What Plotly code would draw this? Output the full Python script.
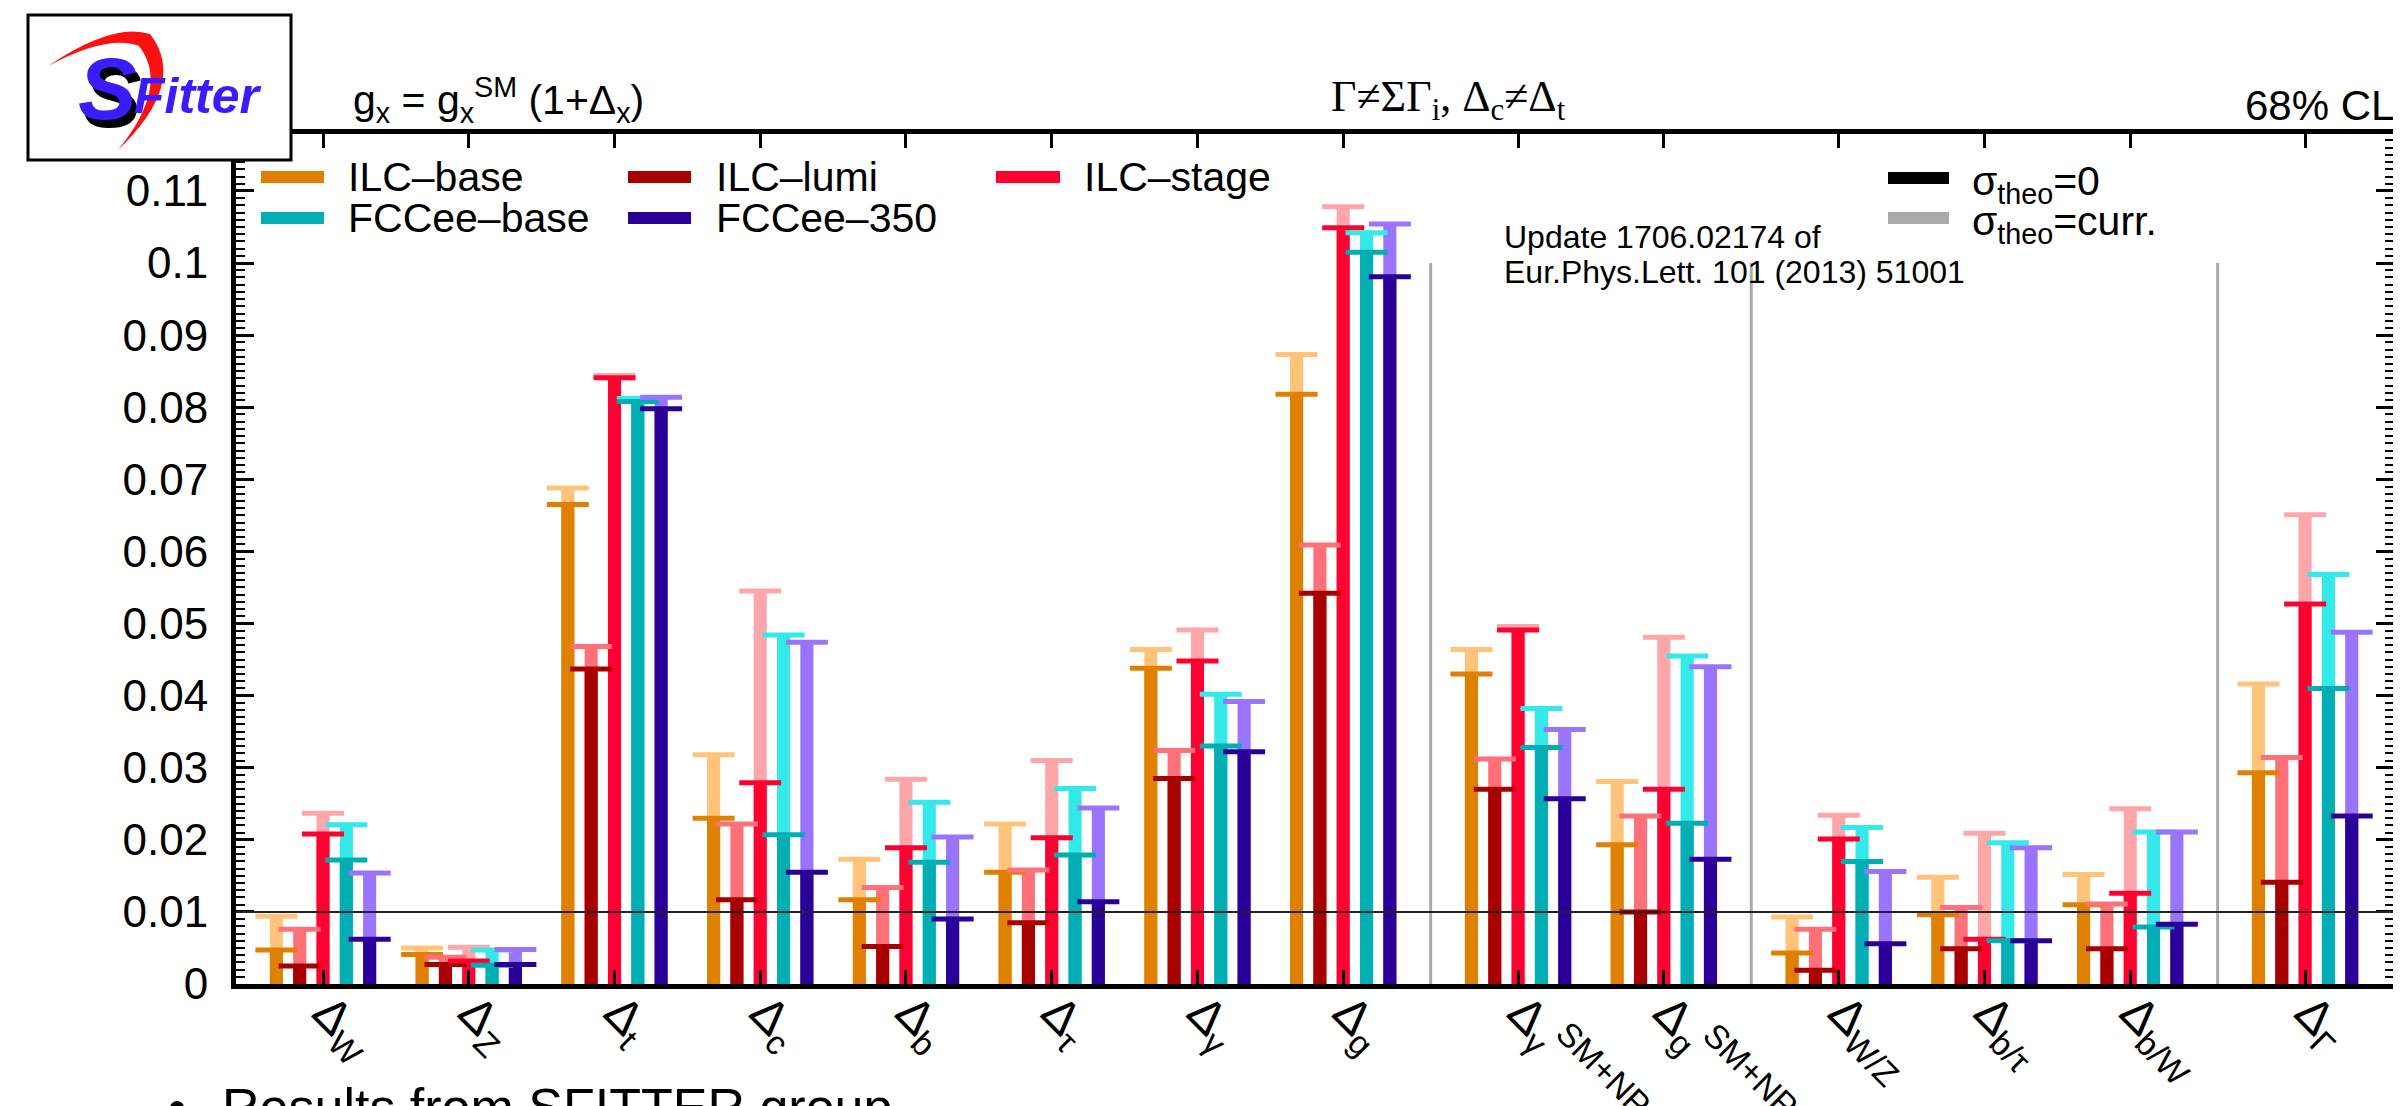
import plotly.graph_objects as go

# ---------------- data ----------------
categories = ["Δ<sub>W</sub>", "Δ<sub>Z</sub>", "Δ<sub>t</sub>", "Δ<sub>c</sub>", "Δ<sub>b</sub>",
              "Δ<sub>τ</sub>", "Δ<sub>γ</sub>", "Δ<sub>g</sub>",
              "Δ<sub>γ</sub><sup>SM+NP</sup>", "Δ<sub>g</sub><sup>SM+NP</sup>",
              "Δ<sub>W/Z</sub>", "Δ<sub>b/τ</sub>", "Δ<sub>b/W</sub>", "Δ<sub>Γ</sub>"]
group_sizes = [8, 2, 3, 1]

series_names = ["ILC–base", "ILC–lumi", "ILC–stage", "FCCee–base", "FCCee–350"]

# sigma_theo = 0
ilc_base_0   = [0.0047, 0.0041, 0.0665, 0.0230, 0.0117, 0.0155, 0.0438, 0.0818, 0.0430, 0.0193, 0.0043, 0.0096, 0.0110, 0.0293]
ilc_lumi_0   = [0.0025, 0.0027, 0.0437, 0.0117, 0.0052, 0.0085, 0.0285, 0.0542, 0.0270, 0.0100, 0.0019, 0.0049, 0.0049, 0.0141]
ilc_stage_0  = [0.0208, 0.0032, 0.0841, 0.0279, 0.0189, 0.0203, 0.0448, 0.1049, 0.0491, 0.0270, 0.0201, 0.0062, 0.0126, 0.0527]
fcc_base_0   = [0.0172, 0.0026, 0.0808, 0.0207, 0.0169, 0.0179, 0.0330, 0.1015, 0.0328, 0.0223, 0.0170, 0.0060, 0.0079, 0.0410]
fcc_350_0    = [0.0062, 0.0027, 0.0798, 0.0155, 0.0090, 0.0114, 0.0322, 0.0981, 0.0257, 0.0173, 0.0056, 0.0060, 0.0083, 0.0233]
# sigma_theo = current
ilc_base_c   = [0.0094, 0.0050, 0.0688, 0.0318, 0.0173, 0.0222, 0.0464, 0.0873, 0.0464, 0.0281, 0.0093, 0.0148, 0.0152, 0.0416]
ilc_lumi_c   = [0.0076, 0.0037, 0.0468, 0.0222, 0.0134, 0.0158, 0.0324, 0.0609, 0.0312, 0.0233, 0.0076, 0.0106, 0.0111, 0.0314]
ilc_stage_c  = [0.0237, 0.0051, 0.0844, 0.0545, 0.0284, 0.0310, 0.0491, 0.1078, 0.0496, 0.0481, 0.0234, 0.0209, 0.0243, 0.0651]
fcc_base_c   = [0.0221, 0.0047, 0.0812, 0.0484, 0.0252, 0.0271, 0.0402, 0.1042, 0.0382, 0.0455, 0.0217, 0.0196, 0.0211, 0.0568]
fcc_350_c    = [0.0154, 0.0048, 0.0814, 0.0474, 0.0204, 0.0244, 0.0392, 0.1054, 0.0353, 0.0440, 0.0156, 0.0189, 0.0211, 0.0488]

ytick_vals = [0, 0.01, 0.02, 0.03, 0.04, 0.05, 0.06, 0.07, 0.08, 0.09, 0.1, 0.11]
ytick_text = ["0", "0.01", "0.02", "0.03", "0.04", "0.05", "0.06", "0.07", "0.08", "0.09", "0.1", "0.11"]

vals_0 = [ilc_base_0, ilc_lumi_0, ilc_stage_0, fcc_base_0, fcc_350_0]
vals_c = [ilc_base_c, ilc_lumi_c, ilc_stage_c, fcc_base_c, fcc_350_c]

dark_colors = ["#E08000", "#A80000", "#FF0030", "#00AEB4", "#2A0099"]
light_colors = ["#FFC47A", "#FF7078", "#FFA6AB", "#33E9E9", "#9A74FF"]

# ---------------- layout geometry ----------------
W, H = 2401, 1106
L, R, T, B = 228, 2386, 126, 976
GAP = 0.2
positions = []
seps = []
p = 1.0
for gi, n in enumerate(group_sizes):
    for k in range(n):
        positions.append(p)
        p += 1.0
    if gi < len(group_sizes) - 1:
        seps.append(p - 1.0 + (1.0 + GAP) / 2)
        p += GAP

xr = [0.403, 15.21]
yr = [0, 0.1179]
OFF = 0.16
BW = 0.09

def px(x):
    return (x - L) / (R - L)

def py(y):
    return (B - y) / (B - T)

fig = go.Figure()

for i in range(5):
    xs = [q + (i - 2) * OFF for q in positions]
    fig.add_trace(go.Bar(x=xs, y=vals_c[i], width=BW, marker=dict(color=light_colors[i], line=dict(width=0)),
                         hoverinfo="skip"))
    fig.add_trace(go.Bar(x=xs, y=vals_0[i], width=BW, marker=dict(color=dark_colors[i], line=dict(width=0)),
                         hoverinfo="skip"))
for i in range(5):
    xs = [q + (i - 2) * OFF for q in positions]
    fig.add_trace(go.Scatter(x=xs, y=vals_c[i], mode="markers", cliponaxis=False,
                             marker=dict(symbol="line-ew", size=30, line=dict(width=5, color=light_colors[i]))))
    fig.add_trace(go.Scatter(x=xs, y=vals_0[i], mode="markers", cliponaxis=False,
                             marker=dict(symbol="line-ew", size=30, line=dict(width=5, color=dark_colors[i]))))

shapes = []
for s in seps:
    shapes.append(dict(type="line", xref="x", yref="y", x0=s, x1=s, y0=0, y1=0.1,
                       line=dict(color="#AAAAAA", width=3), layer="below"))
shapes.append(dict(type="line", xref="x", yref="y", x0=xr[0], x1=xr[1], y0=0.01, y1=0.01,
                   line=dict(color="#222222", width=2), layer="above"))

annotations = []

def txt(x, y, s, size, xanchor="left", yanchor="middle", family="Liberation Sans, Arial", color="black", **kw):
    annotations.append(dict(x=px(x), y=py(y), xref="paper", yref="paper", text=s, showarrow=False,
                            xanchor=xanchor, yanchor=yanchor, font=dict(size=size, family=family, color=color), **kw))

# legend (series)
leg_rows = [169, 210]
leg_cols = [(253, 316, 338), (620, 683, 706), (988, 1052, 1074)]
legend_slots = [(0, 0), (0, 1), (0, 2), (1, 0), (1, 1)]
for i, (r, c) in enumerate(legend_slots):
    x0, x1, xt = leg_cols[c]
    yc = leg_rows[r]
    shapes.append(dict(type="rect", xref="paper", yref="paper", x0=px(x0), x1=px(x1),
                       y0=py(yc + 6), y1=py(yc - 6), fillcolor=dark_colors[i], line=dict(width=0), layer="above"))
    txt(xt, yc, series_names[i], 41)

# legend (theory)
for yc, col, s in [(170, "black", "σ<sub>theo</sub>=0"), (210, "#AAAAAA", "σ<sub>theo</sub>=curr.")]:
    shapes.append(dict(type="rect", xref="paper", yref="paper", x0=px(1880), x1=px(1941),
                       y0=py(yc + 6), y1=py(yc - 6), fillcolor=col, line=dict(width=0), layer="above"))
    txt(1962, yc + 6, s, 41)

# texts above plot
txt(343, 92, "g<sub>x</sub> = g<sub>x</sub><sup>SM</sup> (1+Δ<sub>x</sub>)", 41)
txt(1560, 92, "Γ≠ΣΓ<sub>i</sub>, Δ<sub>c</sub>≠Δ<sub>t</sub>", 44, xanchor="right",
    family="Liberation Serif, Times New Roman")
txt(2388, 98, "68% CL", 42, xanchor="right")
txt(1494, 229, "Update 1706.02174 of", 32)
txt(1494, 264, "Eur.Phys.Lett. 101 (2013) 51001", 32)

# logo box
shapes.append(dict(type="rect", xref="paper", yref="paper", x0=px(20), x1=px(283), y0=py(152), y1=py(7),
                   fillcolor="white", line=dict(color="black", width=3), layer="above"))
def path(pts):
    out = []
    for cmd, coords in pts:
        cs = " ".join(f"{px(a):.5f},{py(b):.5f}" for a, b in coords)
        out.append(f"{cmd}{cs}")
    return " ".join(out) + " Z"
swoosh = path([("M", [(110, 142)]), ("Q", [(180, 75), (142, 26)]), ("Q", [(105, 14), (40, 58)]),
               ("Q", [(100, 26), (131, 38)]), ("Q", [(162, 78), (110, 142)])])
shapes.append(dict(type="path", xref="paper", yref="paper", path=swoosh, fillcolor="#FF1010",
                   line=dict(width=0), layer="above"))
txt(104, 88, "<b><i>S</i></b>", 88, xanchor="center", color="black")
txt(99, 81, "<b><i>S</i></b>", 88, xanchor="center", color="#3A1CFF")
txt(124, 88, "<b><i>Fitter</i></b>", 50, color="#3A1CFF")

# bottom bullet
txt(158, 1068, "•", 52, xanchor="left", yanchor="top")
txt(212, 1068, "Results from SFITTER group", 52, xanchor="left", yanchor="top")

fig.update_layout(
    width=W, height=H,
    margin=dict(l=L, r=W - R, t=T, b=H - B, autoexpand=False),
    plot_bgcolor="white", paper_bgcolor="white",
    barmode="overlay", showlegend=False,
    font=dict(family="Liberation Sans, Arial", color="black"),
    shapes=shapes, annotations=annotations,
    xaxis=dict(range=xr, tickvals=positions, ticktext=categories, tickangle=45,
               ticks="inside", ticklen=14, tickwidth=3, tickcolor="black",
               showline=True, linewidth=5, linecolor="black", mirror="ticks",
               showgrid=False, zeroline=False, tickfont=dict(size=48, family="Liberation Sans, Arial"),
               ticklabelstandoff=-24, ticklabelshift=4, automargin=False),
    yaxis=dict(range=yr, tickvals=ytick_vals, ticktext=ytick_text,
               ticks="inside", ticklen=18, tickwidth=3, tickcolor="black",
               minor=dict(dtick=0.001, ticks="inside", ticklen=9, tickwidth=2, tickcolor="black"),
               showline=True, linewidth=5, linecolor="black", mirror="ticks",
               showgrid=False, zeroline=False, tickfont=dict(size=44, family="Liberation Sans, Arial"),
               ticklabelstandoff=14, automargin=False),
)

fig.write_html("out.html")
